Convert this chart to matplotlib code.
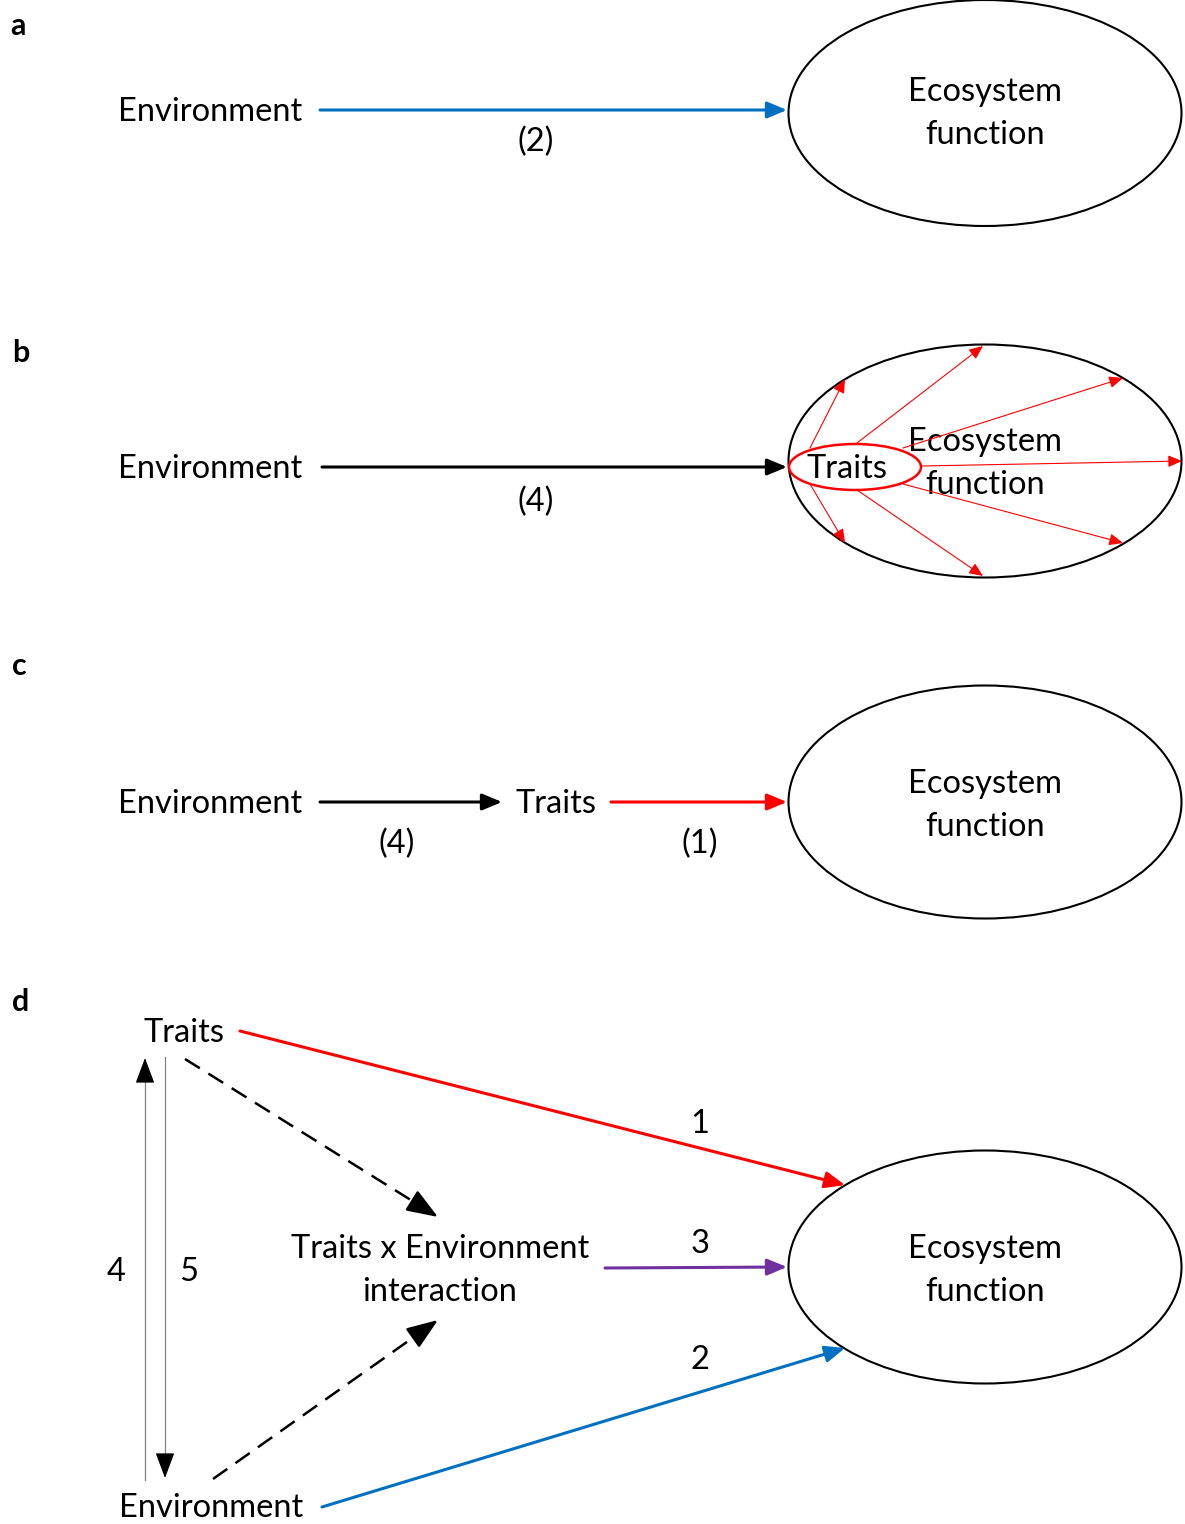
import matplotlib.pyplot as plt
from matplotlib.patches import Ellipse

plt.rcParams['font.family'] = ['Lato', 'DejaVu Sans']

# text of the diagram
panel_labels = ['a', 'b', 'c', 'd']
env_label = 'Environment'
traits_label = 'Traits'
eco_label = ['Ecosystem', 'function']
inter_label = ['Traits x Environment', 'interaction']
path_a = '(2)'
path_b = '(4)'
path_c = ['(4)', '(1)']
path_d = ['1', '2', '3', '4', '5']

BLUE = '#0070C0'
RED = '#FF0000'
PURPLE = '#7030A0'
FS = 23.5

fig = plt.figure(figsize=(11.85, 15.24), dpi=100)
ax = fig.add_axes([0, 0, 1, 1])
ax.set_xlim(0, 1185)
ax.set_ylim(1524, 0)
ax.axis('off')


def arrow(x0, y0, x1, y1, color='black', lw=2.2, ls='-', hl=0.6, hw=0.25, ms=20):
    ax.annotate('', xy=(x1, y1), xytext=(x0, y0),
                arrowprops=dict(arrowstyle='-|>,head_length=%s,head_width=%s' % (hl, hw),
                                color=color, lw=lw, linestyle=ls,
                                shrinkA=0, shrinkB=0, mutation_scale=ms))


def split_arrow(x0, y0, x1, y1, shaft_color, head_color, lw, ls='-', back=20, ms=20):
    # shaft drawn as a plain line, head drawn solid so it is not dashed
    dx, dy = x1 - x0, y1 - y0
    d = (dx * dx + dy * dy) ** 0.5
    bx, by = x1 - dx / d * back, y1 - dy / d * back
    ax.plot([x0, bx], [y0, by], color=shaft_color, lw=lw, linestyle=ls)
    arrow(bx, by, x1, y1, color=head_color, lw=lw, hl=0.8, hw=0.3, ms=ms)


def text(x, y, s, size=FS, **kw):
    # small downward nudge so glyphs sit like the reference
    ax.text(x, y + 2, s, fontsize=size, ha='center', va='center', **kw)


def eco(cy):
    ax.add_patch(Ellipse((985, cy), 393, 233, fill=False, ec='black', lw=1.5))


# panel labels
for lab, (x, y) in zip(panel_labels, [(18, 24), (21, 351), (19, 664), (21, 1000)]):
    text(x, y, lab, size=22, fontweight='bold')

# a
text(210, 110, env_label)
arrow(320, 110, 787, 110, color=BLUE)
text(536, 140, path_a)
ax.add_patch(Ellipse((985, 113), 393, 226, fill=False, ec='black', lw=1.5))
text(985, 90, eco_label[0])
text(985, 133, eco_label[1])

# b
text(210, 467, env_label)
arrow(322, 467, 787, 467, color='black')
text(536, 500, path_b)
eco(461)
ax.add_patch(Ellipse((855, 467), 132, 46, fill=False, ec=RED, lw=1.8))
text(847, 467, traits_label)
text(985, 440, eco_label[0])
text(985, 483, eco_label[1])
spokes = [((810, 448), (845, 379)), ((857, 443), (983, 346)), ((903, 448), (1123, 378)),
          ((922, 466), (1182, 461)), ((903, 484), (1123, 543)), ((857, 490), (983, 576)),
          ((810, 484), (845, 543))]
for (x0, y0), (x1, y1) in spokes:
    arrow(x0, y0, x1, y1, color=RED, lw=0.8, hl=0.7, hw=0.3, ms=12)

# c
text(210, 802, env_label)
arrow(320, 802, 502, 802, color='black')
text(397, 842, path_c[0])
text(556, 802, traits_label)
arrow(611, 802, 787, 802, color=RED)
text(700, 842, path_c[1])
eco(802)
text(985, 782, eco_label[0])
text(985, 825, eco_label[1])

# d
text(184, 1031, traits_label)
text(211, 1506, env_label)
text(440, 1247, inter_label[0])
text(440, 1290, inter_label[1])
eco(1267)
text(985, 1247, eco_label[0])
text(985, 1290, eco_label[1])
arrow(240, 1031, 845, 1185, color=RED)
text(700, 1122, path_d[0])
arrow(322, 1507, 845, 1348, color=BLUE)
text(700, 1358, path_d[1])
arrow(605, 1268, 787, 1267, color=PURPLE)
text(700, 1242, path_d[2])
split_arrow(185, 1059, 438, 1217, 'black', 'black', 1.8, ls=(0, (7, 4)), back=22, ms=24)
split_arrow(213, 1479, 438, 1320, 'black', 'black', 1.8, ls=(0, (7, 4)), back=22, ms=24)
# thin grey shafts with black heads
split_arrow(145, 1480, 145, 1058, '#808080', 'black', 0.9)
split_arrow(165, 1057, 165, 1478, '#808080', 'black', 0.9)
text(116, 1270, path_d[3])
text(189, 1270, path_d[4])

fig.savefig('out.png', dpi=100)
